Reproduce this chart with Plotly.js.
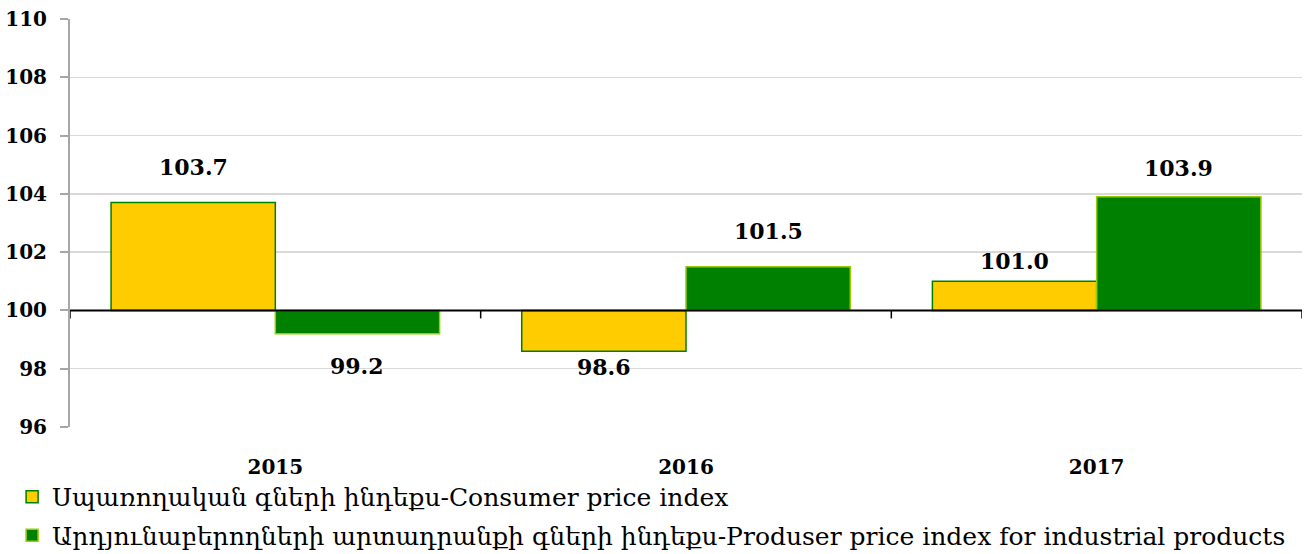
<!DOCTYPE html>
<html>
<head>
<meta charset="utf-8">
<script src="https://cdn.plot.ly/plotly-3.0.1.min.js"></script>
<style>html,body{margin:0;padding:0;background:#fff;}#chart{width:1304px;height:554px;}</style>
</head>
<body>
<div id="chart"></div>
<script>
const years = ["2015", "2016", "2017"];
const cpiValues = [103.7, 98.6, 101.0];
const ppiValues = [99.2, 101.5, 103.9];
const seriesNames = [
  "Սպառողական գների ինդեքս-Consumer price index",
  "Արդյունաբերողների արտադրանքի գների ինդեքս-Produser price index for industrial products"
];
const baseValue = 100;

// label pixel shifts (layout only)
const cpiLabelShift = [36, -16, 20];
const ppiLabelShift = [-32, 36, 29];

const FONT = "DejaVu Serif, Liberation Serif, serif";

const traces = [
  {
    type: "bar", x: years, y: cpiValues.map(v => v - baseValue), base: baseValue,
    name: seriesNames[0], legendgroup: "a",
    marker: {color: "#FFCC00", line: {color: "#008000", width: 1.5}},
    hoverinfo: "skip"
  },
  {
    type: "bar", x: years, y: ppiValues.map(v => v - baseValue), base: baseValue,
    name: seriesNames[1], legendgroup: "b",
    marker: {color: "#008000", line: {color: "#99CC00", width: 1.5}},
    hoverinfo: "skip"
  }
];

const bargap = 0.2;
const barOffset = (1 - bargap) / 4;
const annotations = [];
years.forEach((yr, i) => {
  annotations.push({x: i - barOffset, y: cpiValues[i], xref: "x", yref: "y",
    text: cpiValues[i].toFixed(1), showarrow: false, yshift: cpiLabelShift[i],
    font: {family: FONT, size: 22, color: "#000", weight: "bold"}});
  annotations.push({x: i + barOffset, y: ppiValues[i], xref: "x", yref: "y",
    text: ppiValues[i].toFixed(1), showarrow: false, yshift: ppiLabelShift[i],
    font: {family: FONT, size: 22, color: "#000", weight: "bold"}});
});

const shapes = [{type: "line", xref: "paper", x0: 0, x1: 1, yref: "y", y0: baseValue, y1: baseValue,
  line: {color: "#000", width: 2}, layer: "above"}];
for (let i = 0; i <= years.length; i++) {
  shapes.push({type: "line", xref: "x", x0: i - 0.5, x1: i - 0.5, yref: "y", ysizemode: "pixel",
    yanchor: baseValue, y0: 0, y1: -8, line: {color: "#000", width: 1.5}, layer: "above"});
}

const layout = {
  width: 1304, height: 554,
  margin: {l: 70, r: 2, t: 19, b: 127, autoexpand: false},
  paper_bgcolor: "#fff", plot_bgcolor: "#fff",
  font: {family: FONT, color: "#000"},
  barmode: "group", bargap: bargap, bargroupgap: 0,
  showlegend: true,
  legend: {orientation: "v", x: -0.047, xanchor: "left", y: -0.115, yanchor: "top",
    traceorder: "grouped", tracegroupgap: 3,
    font: {family: FONT, size: 25, color: "#000"}, bgcolor: "rgba(0,0,0,0)"},
  xaxis: {type: "category", range: [-0.5, years.length - 0.5], showline: false, showgrid: false,
    zeroline: false, ticks: "outside", ticklen: 22, tickcolor: "rgba(0,0,0,0)",
    tickfont: {family: FONT, size: 20, color: "#000", weight: "bold"}},
  yaxis: {range: [96, 110], dtick: 2, tick0: 96, showline: true, linecolor: "#a6a6a6", linewidth: 2,
    ticks: "outside", ticklen: 8, tickcolor: "#a6a6a6", tickwidth: 2, ticklabelstandoff: 9,
    showgrid: true, gridcolor: "#d9d9d9", gridwidth: 1.5, zeroline: false,
    tickfont: {family: FONT, size: 20, color: "#000", weight: "bold"}},
  annotations: annotations,
  shapes: shapes
};

Plotly.newPlot("chart", traces, layout, {displayModeBar: false, staticPlot: true});
</script>
</body>
</html>
